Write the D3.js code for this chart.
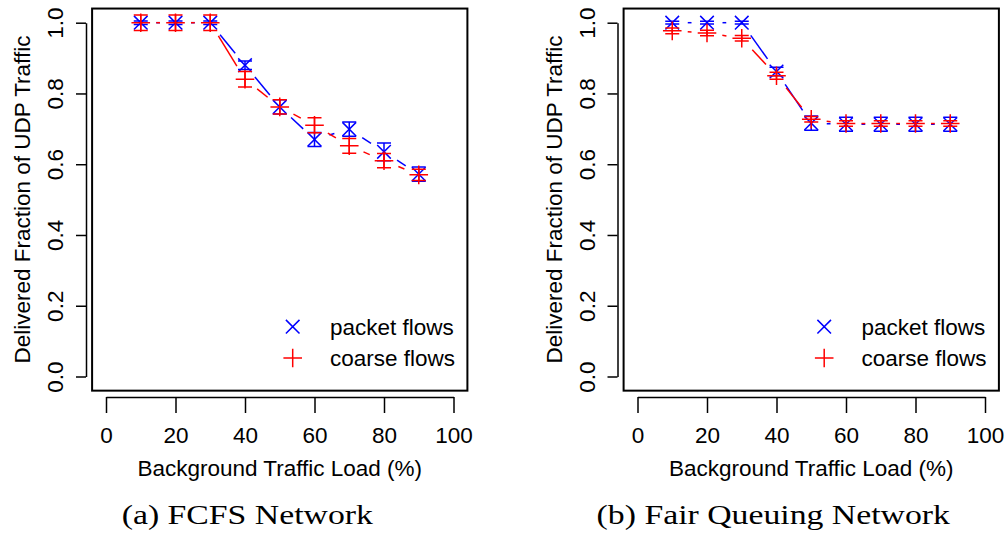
<!DOCTYPE html>
<html>
<head>
<meta charset="UTF-8">
<script src="https://d3js.org/d3.v7.min.js"></script>
<style>
  body { margin: 0; background: #fff; }
  svg text { font-family: "Liberation Sans", Arial, sans-serif; fill: #000; }
</style>
</head>
<body>
<svg id="chart" width="1006" height="533"></svg>
<script>
// background load (%) on x
const loads = [10, 20, 30, 40, 50, 60, 70, 80, 90];

// (a) FCFS network
const fcfsPacket    = [1.0, 1.0, 1.0, 0.880, 0.762, 0.670, 0.699, 0.635, 0.572];
const fcfsPacketErr = [0.005, 0.005, 0.005, 0.012, 0.02, 0.02, 0.02, 0.025, 0.02];
const fcfsCoarse    = [1.0, 1.0, 1.0, 0.840, 0.762, 0.710, 0.652, 0.610, 0.570];
const fcfsCoarseErr = [0.022, 0.022, 0.022, 0.022, 0.02, 0.021, 0.021, 0.02, 0.016];

// (b) fair queuing network
const fqPacket    = [1.0, 1.0, 1.0, 0.862, 0.716, 0.713, 0.713, 0.713, 0.713];
const fqPacketErr = [0.004, 0.004, 0.004, 0.012, 0.02, 0.02, 0.02, 0.02, 0.02];
const fqCoarse    = [0.977, 0.971, 0.956, 0.850, 0.727, 0.715, 0.715, 0.715, 0.715];
const fqCoarseErr = [0.008, 0.008, 0.008, 0.01, 0.008, 0.008, 0.008, 0.008, 0.008];

const xTicks = [0, 20, 40, 60, 80, 100];
const yTicks = [0, 0.2, 0.4, 0.6, 0.8, 1.0];
const seriesNames = ["packet flows", "coarse flows"];
const captions = ["(a) FCFS Network", "(b) Fair Queuing Network"];

const svg = d3.select("#chart");
const fs = 22.5;

// same scales for both panels, panels are shifted
const x = d3.scaleLinear().domain([0, 100]).range([106, 453.5]);
const y = d3.scaleLinear().domain([0, 1]).range([376.5, 22.7]);

function crossX(g, cx, cy, s, col) {
  g.append("path")
    .attr("d", `M${cx - s},${cy - s}L${cx + s},${cy + s}M${cx - s},${cy + s}L${cx + s},${cy - s}`)
    .attr("stroke", col).attr("stroke-width", 1.5).attr("fill", "none");
}
function plus(g, cx, cy, s, col) {
  g.append("path")
    .attr("d", `M${cx - s},${cy}L${cx + s},${cy}M${cx},${cy - s}L${cx},${cy + s}`)
    .attr("stroke", col).attr("stroke-width", 1.5).attr("fill", "none");
}

function series(g, vals, errs, col, marker) {
  const pts = loads.map((l, i) => [x(l), y(vals[i])]);
  // type="b" style lines, with gaps round the points
  const gap = 15.5;
  for (let i = 0; i < pts.length - 1; i++) {
    const [x0, y0] = pts[i], [x1, y1] = pts[i + 1];
    const len = Math.hypot(x1 - x0, y1 - y0);
    if (len <= 2 * gap) continue;
    const ux = (x1 - x0) / len, uy = (y1 - y0) / len;
    g.append("line")
      .attr("x1", x0 + ux * gap).attr("y1", y0 + uy * gap)
      .attr("x2", x1 - ux * gap).attr("y2", y1 - uy * gap)
      .attr("stroke", col).attr("stroke-width", 1.5);
  }
  // error bars
  loads.forEach((l, i) => {
    const cx = x(l), yt = y(vals[i] + errs[i]), yb = y(vals[i] - errs[i]);
    g.append("path")
      .attr("d", `M${cx},${yt}L${cx},${yb}M${cx - 7},${yt}L${cx + 7},${yt}M${cx - 7},${yb}L${cx + 7},${yb}`)
      .attr("stroke", col).attr("stroke-width", 1.5).attr("fill", "none");
  });
  pts.forEach(p => marker(g, p[0], p[1], marker === plus ? 9.3 : 6.8, col));
}

function panel(dx, packet, packetErr, coarse, coarseErr, caption, capX) {
  const g = svg.append("g").attr("transform", `translate(${dx},0)`);

  // plot box (R extends the range by 4%)
  g.append("rect")
    .attr("x", x(-4)).attr("y", y(1.04))
    .attr("width", x(104) - x(-4)).attr("height", y(-0.04) - y(1.04))
    .attr("fill", "none").attr("stroke", "#000").attr("stroke-width", 2);

  const xa = g.append("g").attr("transform", "translate(0,397)")
    .call(d3.axisBottom(x).tickValues(xTicks).tickSize(16).tickSizeOuter(0).tickFormat(d3.format("d")));
  xa.selectAll("text").attr("y", 46).attr("dy", null).style("font-size", fs + "px")
    .style("font-family", "'Liberation Sans', Arial, sans-serif");

  const ya = g.append("g").attr("transform", "translate(86,0)")
    .call(d3.axisLeft(y).tickValues(yTicks).tickSize(10).tickSizeOuter(0).tickFormat(d3.format(".1f")));
  ya.selectAll("text")
    .attr("x", null).attr("dy", null)
    .attr("transform", "translate(-23,0) rotate(-90)")
    .attr("text-anchor", "middle")
    .style("font-size", fs + "px")
    .style("font-family", "'Liberation Sans', Arial, sans-serif");

  [xa, ya].forEach(a => {
    a.selectAll("path, line").attr("stroke", "#000").attr("stroke-width", 1.5);
  });

  g.append("text")
    .attr("x", (x(-4) + x(104)) / 2).attr("y", 476)
    .attr("text-anchor", "middle").style("font-size", fs + "px")
    .text("Background Traffic Load (%)");

  g.append("text")
    .attr("transform", `translate(30,${(y(1.04) + y(-0.04)) / 2}) rotate(-90)`)
    .attr("text-anchor", "middle").style("font-size", fs + "px")
    .text("Delivered Fraction of UDP Traffic");

  series(g, packet, packetErr, "#0000ff", crossX);
  series(g, coarse, coarseErr, "#ff0000", plus);

  // legend
  crossX(g, 292.7, 326.7, 6.8, "#0000ff");
  plus(g, 292.7, 358, 9.3, "#ff0000");
  g.append("text").attr("x", 330).attr("y", 334.5).style("font-size", fs + "px").text(seriesNames[0]);
  g.append("text").attr("x", 330).attr("y", 366).style("font-size", fs + "px").text(seriesNames[1]);

  // subfigure caption
  const cap = svg.append("text")
    .attr("x", capX).attr("y", 524)
    .attr("text-anchor", "middle")
    .style("font-family", "'Liberation Serif', 'Times New Roman', serif")
    .style("font-size", "27px")
    .text(caption);
  const w = cap.node().getComputedTextLength();
  cap.attr("textLength", w * 1.25).attr("lengthAdjust", "spacingAndGlyphs");
}

panel(0, fcfsPacket, fcfsPacketErr, fcfsCoarse, fcfsCoarseErr, captions[0], 247.3);
panel(531.5, fqPacket, fqPacketErr, fqCoarse, fqCoarseErr, captions[1], 773.3);
</script>
</body>
</html>
